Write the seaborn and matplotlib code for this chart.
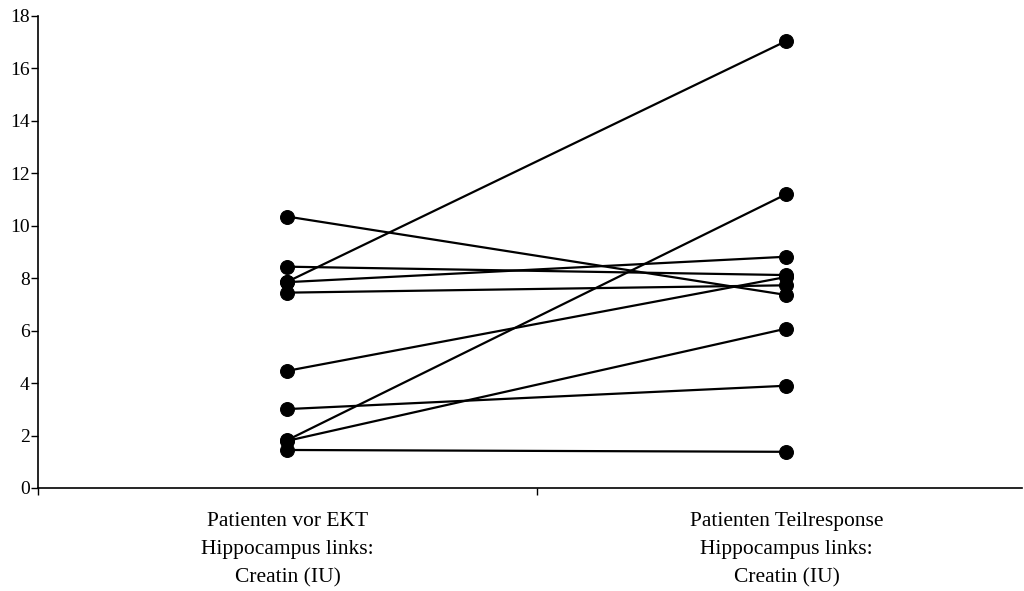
import matplotlib
matplotlib.use("Agg")
import matplotlib.pyplot as plt
import seaborn as sns
import pandas as pd

# Data
groups = ["Patienten vor EKT\nHippocampus links:\nCreatin (IU)",
          "Patienten Teilresponse\nHippocampus links:\nCreatin (IU)"]
before = [10.35, 8.44, 7.87, 7.85, 7.45, 4.47, 3.01, 1.83, 1.80, 1.45]
after = [7.36, 8.12, 17.05, 8.82, 7.73, 8.05, 3.90, 11.21, 6.08, 1.38]
yticks = [0, 2, 4, 6, 8, 10, 12, 14, 16, 18]

rows = []
for i, (b, a) in enumerate(zip(before, after)):
    rows.append({"subject": i, "pos": 0, "value": b})
    rows.append({"subject": i, "pos": 1, "value": a})
df = pd.DataFrame(rows)

sns.set_theme(style="white")
plt.rcParams["font.family"] = ["Liberation Serif", "DejaVu Serif"]
plt.rcParams["text.color"] = "black"
plt.rcParams["xtick.color"] = "black"
plt.rcParams["ytick.color"] = "black"

fig = plt.figure(figsize=(10.24, 5.91), dpi=100)
ax = fig.add_axes([38 / 1024, 103 / 591, 984 / 1024, 472 / 591])

sns.lineplot(data=df, x="pos", y="value", units="subject", estimator=None,
             color="black", linewidth=1.6, marker="o", markersize=10,
             markeredgecolor="black", markerfacecolor="black", ax=ax,
             legend=False)

ax.set_yticks(yticks)
ax.set_yticklabels([str(v) for v in yticks], fontsize=14, color="black")
ax.set_xticks([0, 1])
ax.set_xticklabels(groups, fontsize=15.5, linespacing=1.65, color="black")
ax.set_xticks([-0.5, 0.5], minor=True)
ax.set_xlim(-0.5, 1.472)
ax.set_ylim(0, 18)
ax.tick_params(axis="x", which="major", length=0, pad=17)
ax.tick_params(axis="x", which="minor", length=5, width=1, color="black",
               direction="out", bottom=True)
ax.tick_params(axis="y", which="major", length=5, width=1, color="black",
               direction="out", left=True, pad=1)
ax.set_xlabel("")
ax.set_ylabel("")

for side in ["top", "right"]:
    ax.spines[side].set_visible(False)
for side in ["left", "bottom"]:
    ax.spines[side].set_color("black")
    ax.spines[side].set_linewidth(1.2)
ax.grid(False)

fig.savefig("out.png", dpi=100, facecolor="white")
